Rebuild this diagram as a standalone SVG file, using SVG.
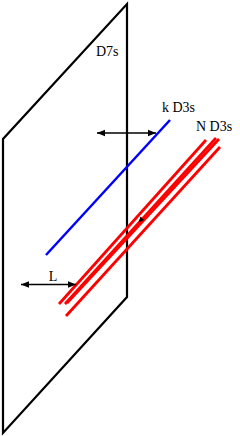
<svg xmlns="http://www.w3.org/2000/svg" width="240" height="436" viewBox="0 0 240 436">
<style>
.lbl{font-family:"Liberation Serif","Times New Roman",serif;font-size:14px;fill:#000}
.dim{stroke:#000;stroke-width:1.5;fill:none}
.red{stroke:#ff0000;stroke-width:2.8;fill:none}
</style>
<defs>
<marker id="ah" viewBox="0 0 10 10" refX="10" refY="5" markerWidth="8" markerHeight="8" markerUnits="userSpaceOnUse" orient="auto-start-reverse">
<path d="M0,1 L10,5 L0,9 Z" fill="#000"/>
</marker>
</defs>
<g id="plane">
<polygon points="127,4 127,297 3,433 3,139" fill="none" stroke="#000" stroke-width="2.2" stroke-linejoin="miter"/>
<text class="lbl" x="96" y="56" font-size="13.5">D7s</text>
</g>
<g id="kD3">
<line x1="46" y1="255" x2="170" y2="120" stroke="#0000ff" stroke-width="2.5"/>
<text class="lbl" x="162" y="112">k D3s</text>
</g>
<g id="ND3">
<line class="red" x1="59" y1="304" x2="206" y2="140"/>
<line class="red" x1="65" y1="304" x2="216" y2="138"/>
<line class="red" x1="67" y1="303" x2="219" y2="139"/>
<line class="red" x1="66" y1="316" x2="220" y2="147"/>
<text class="lbl" x="196" y="131">N D3s</text>
</g>
<g id="connectors">
<line class="dim" x1="97" y1="133" x2="156" y2="133" marker-start="url(#ah)" marker-end="url(#ah)"/>
<line class="dim" x1="21" y1="284.5" x2="76" y2="284.5" marker-start="url(#ah)" marker-end="url(#ah)"/>
<polygon points="138.5,222.5 140.5,216.5 144,220" fill="#000"/>
<text class="lbl" x="53" y="281" text-anchor="middle">L</text>
</g>
</svg>
